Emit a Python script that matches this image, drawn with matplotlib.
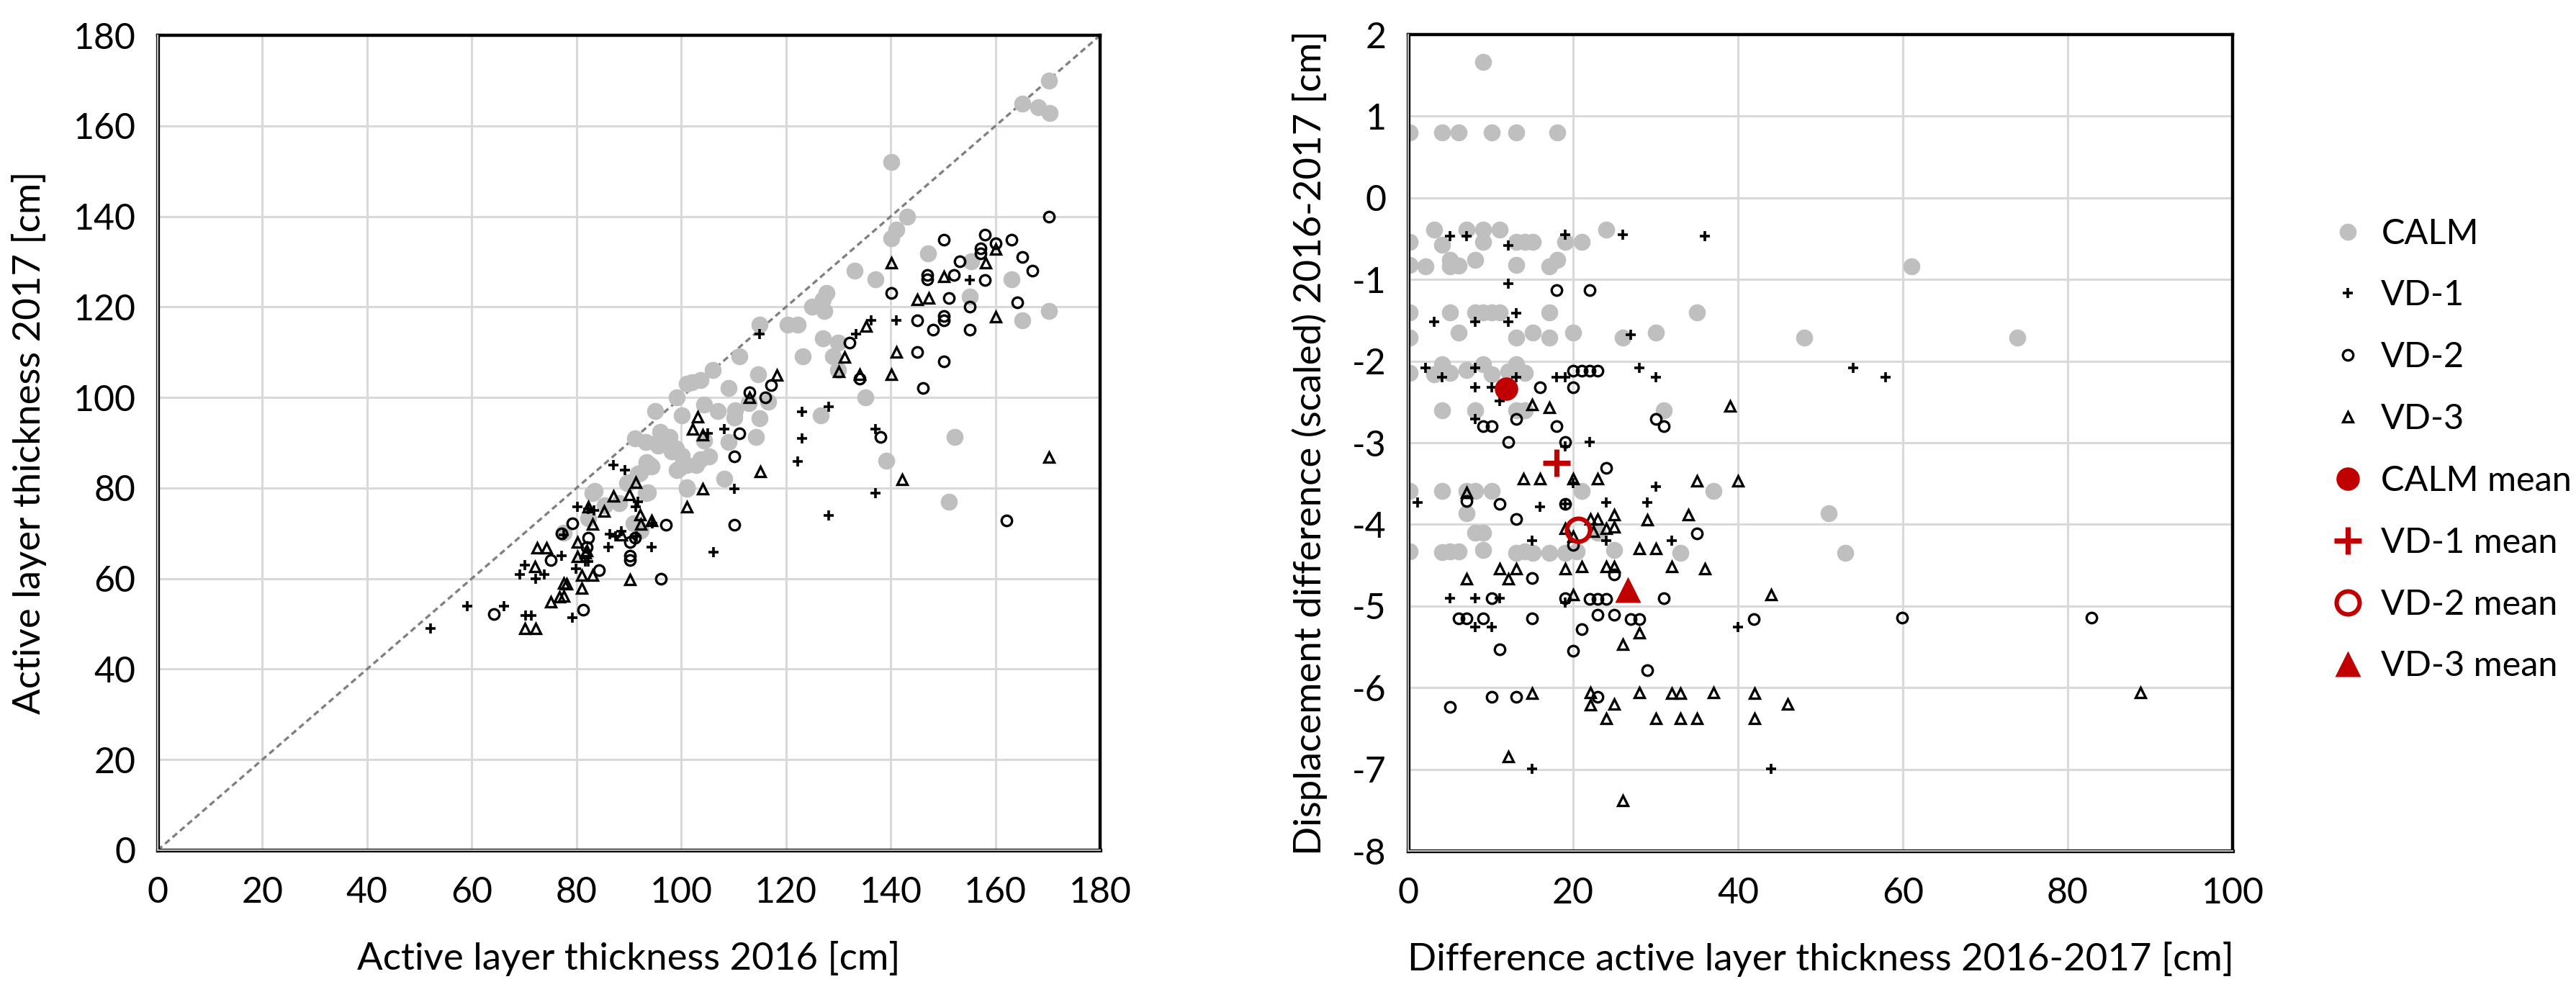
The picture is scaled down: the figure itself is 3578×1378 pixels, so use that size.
import matplotlib
matplotlib.use("Agg")
import matplotlib.pyplot as plt

plt.rcParams['font.family'] = ['Lato', 'DejaVu Sans']
plt.rcParams['axes.unicode_minus'] = False

# ---- left panel: active layer thickness 2016 vs 2017 ----
calm_2016 = [170.2, 165.1, 168.2, 170.3, 140.1, 143.1, 141.1, 140.1, 147.1, 133.1, 137.1, 155.3,
             155.1, 163.1, 170.2, 165.1, 127.8, 127.0, 125.0, 127.3, 115.0, 120.3, 122.2, 127.0,
             130.0, 111.1, 123.2, 129.0, 130.0, 106.0, 102.0, 103.7, 109.1, 114.7, 135.1, 126.6,
             152.2, 99.1, 95.0, 104.3, 107.0, 110.3, 115.0, 114.3, 109.0, 104.3, 139.1, 151.1,
             108.2, 101.1, 94.3, 99.6, 103.7, 105.3, 95.6, 99.0, 93.7, 100.1, 91.1, 93.2,
             95.5, 96.0, 97.8, 98.2, 100.1, 99.2, 101.0, 94.1, 92.1, 90.0, 93.2, 88.2,
             85.4, 83.1, 82.2, 90.9, 92.3, 101.0, 77.6, 112.9, 116.6, 110.1, 102.8, 93.4,
             91.7, 89.7, 83.4, 101.0]
calm_2017 = [170.0, 164.9, 164.1, 162.9, 152.0, 140.0, 137.0, 135.1, 131.9, 128.0, 126.1, 130.0,
             122.3, 126.1, 119.1, 117.0, 123.1, 121.6, 120.0, 119.1, 116.1, 116.1, 116.1, 113.0,
             112.1, 109.1, 109.1, 109.1, 106.1, 106.1, 103.3, 103.9, 102.1, 105.1, 100.0, 96.0,
             91.2, 100.0, 97.0, 98.4, 97.0, 97.2, 95.4, 91.2, 90.2, 90.5, 86.0, 77.0,
             82.0, 79.9, 84.8, 84.2, 86.3, 86.9, 89.3, 88.7, 79.0, 96.1, 91.0, 90.2,
             90.2, 92.4, 91.3, 88.1, 87.1, 83.9, 85.0, 85.0, 83.4, 81.2, 78.9, 76.7,
             76.2, 78.9, 73.3, 72.2, 70.6, 80.2, 70.1, 98.7, 99.0, 95.5, 85.0, 85.7,
             83.2, 81.1, 79.3, 103.0]

vd1_2016 = [115.0, 141.1, 136.3, 133.3, 155.1, 123.0, 128.1, 123.0, 137.1, 108.2, 105.0, 122.3,
            110.1, 137.1, 128.1, 94.3, 106.1, 87.1, 89.2, 80.1, 82.2, 83.3, 91.7, 91.3,
            86.3, 88.6, 86.1, 94.4, 77.6, 79.9, 81.7, 82.2, 77.2, 79.2, 70.1, 69.1,
            72.2, 73.9, 59.1, 66.1, 70.2, 71.4, 52.1, 87.4, 91.4]
vd1_2017 = [114.0, 117.0, 117.0, 114.0, 126.0, 96.9, 98.0, 91.0, 93.1, 93.0, 92.1, 85.8,
            79.8, 78.9, 74.0, 67.0, 65.8, 85.0, 84.0, 75.8, 75.4, 75.1, 77.0, 75.9,
            69.8, 70.4, 67.0, 72.2, 69.6, 62.2, 63.7, 63.7, 65.1, 51.3, 62.9, 60.9,
            60.0, 60.9, 53.9, 53.9, 51.9, 51.9, 48.9, 69.3, 69.3]

vd2_2016 = [170.2, 158.0, 150.1, 163.1, 160.0, 157.1, 157.1, 165.1, 153.1, 167.1, 152.1, 158.0,
            147.0, 147.0, 140.1, 151.1, 155.1, 164.1, 145.1, 150.1, 150.1, 148.1, 155.1, 132.1,
            145.1, 150.1, 134.0, 146.1, 113.0, 117.1, 116.1, 111.1, 138.1, 110.1, 97.1, 110.1,
            96.1, 162.1, 79.2, 82.2, 82.0, 91.1, 90.2, 90.2, 90.2, 84.3, 81.2, 75.1,
            64.2, 77.1]
vd2_2017 = [140.0, 136.0, 134.9, 134.9, 134.0, 133.0, 131.9, 131.0, 130.0, 128.0, 127.0, 125.9,
            127.0, 126.1, 123.1, 122.0, 120.0, 121.0, 117.0, 118.0, 117.0, 115.0, 115.0, 112.1,
            110.0, 107.9, 104.2, 102.1, 101.2, 102.8, 100.0, 92.1, 91.2, 86.9, 71.9, 71.9,
            60.0, 72.9, 72.2, 69.0, 66.9, 69.0, 68.0, 65.1, 64.0, 61.9, 53.1, 64.0,
            52.1, 69.9]

vd3_2016 = [140.1, 158.1, 160.1, 150.1, 145.1, 147.3, 160.1, 135.3, 131.2, 130.1, 134.0, 141.1,
            140.1, 118.2, 113.0, 103.1, 102.1, 104.1, 170.2, 142.1, 115.1, 104.1, 101.1, 94.3,
            91.3, 87.0, 90.0, 82.2, 85.3, 92.1, 92.3, 83.1, 80.1, 82.0, 80.1, 81.0,
            83.1, 90.2, 81.0, 77.6, 77.6, 88.6, 72.4, 74.2, 72.1, 81.7, 78.1, 75.1,
            76.7, 70.1, 72.2]
vd3_2017 = [129.8, 129.8, 132.8, 126.7, 121.6, 121.9, 117.8, 115.8, 108.9, 105.7, 105.1, 110.0,
            105.1, 105.0, 100.0, 95.8, 93.0, 91.8, 86.8, 81.9, 83.7, 79.8, 75.8, 72.9,
            81.2, 78.3, 78.6, 75.9, 74.9, 74.1, 72.0, 72.0, 68.0, 66.1, 64.8, 60.8,
            60.8, 59.8, 57.9, 59.0, 56.1, 69.6, 66.8, 66.8, 62.6, 65.6, 58.9, 54.8,
            55.9, 48.9, 48.9]

# ---- right panel: ALT difference vs displacement difference ----
calm_dalt = [9.1, 0.2, 4.1, 6.1, 10.1, 13.1, 18.1, 3.1, 7.1, 9.1, 11.1, 24.0,
             0.2, 4.1, 9.1, 13.1, 14.1, 15.1, 19.0, 21.0, 0.2, 2.1, 5.1, 5.1,
             6.1, 8.1, 13.1, 17.1, 18.1, 0.2, 5.1, 8.1, 9.1, 10.1, 11.1, 17.1,
             35.0, 0.2, 6.1, 13.1, 15.1, 17.1, 20.0, 26.0, 30.0, 48.0, 0.2, 3.1,
             4.1, 5.1, 7.1, 9.1, 10.1, 12.1, 13.1, 14.1, 4.1, 8.1, 13.1, 14.1,
             31.0, 61.0, 73.9, 0.2, 4.1, 7.1, 8.1, 10.1, 21.0, 37.0, 7.1, 8.1,
             9.1, 0.2, 4.1, 5.1, 6.1, 9.1, 13.1, 14.1, 15.1, 17.1, 19.0, 20.4,
             23.0, 25.0, 33.0, 51.0, 53.0]
calm_ddisp = [1.67, 0.80, 0.80, 0.80, 0.80, 0.80, 0.80, -0.39, -0.39, -0.39, -0.39, -0.39,
              -0.54, -0.57, -0.54, -0.54, -0.54, -0.54, -0.54, -0.54, -0.82, -0.84, -0.76, -0.84,
              -0.83, -0.76, -0.82, -0.84, -0.76, -1.40, -1.40, -1.40, -1.40, -1.40, -1.40, -1.40,
              -1.40, -1.71, -1.65, -1.71, -1.65, -1.71, -1.65, -1.71, -1.65, -1.71, -2.14, -2.16,
              -2.04, -2.14, -2.11, -2.04, -2.16, -2.13, -2.04, -2.14, -2.60, -2.60, -2.60, -2.60,
              -2.60, -0.84, -1.71, -3.59, -3.59, -3.59, -3.59, -3.59, -3.59, -3.59, -3.86, -4.10,
              -4.10, -4.33, -4.34, -4.33, -4.33, -4.31, -4.35, -4.33, -4.35, -4.35, -4.35, -4.33,
              -4.10, -4.31, -4.35, -3.86, -4.35]

vd1_dalt = [5.1, 7.1, 12.1, 19.0, 26.0, 36.0, 12.1, 13.1, 3.1, 8.1, 12.1, 27.0,
            2.1, 8.1, 4.1, 13.1, 8.1, 10.1, 11.1, 18.0, 19.0, 28.0, 30.0, 8.1,
            22.0, 19.0, 54.0, 57.9, 20.0, 1.1, 16.0, 19.0, 24.0, 29.0, 30.0, 15.0,
            24.0, 32.0, 5.1, 8.1, 11.1, 19.0, 8.1, 10.1, 40.0, 15.0, 44.0]
vd1_ddisp = [-0.47, -0.47, -0.58, -0.45, -0.45, -0.47, -1.05, -1.41, -1.52, -1.52, -1.52, -1.68,
             -2.08, -2.08, -2.20, -2.20, -2.32, -2.32, -2.49, -2.20, -2.20, -2.08, -2.20, -2.71,
             -2.99, -3.04, -2.08, -2.20, -3.49, -3.73, -3.78, -3.75, -3.73, -3.73, -3.54, -4.20,
             -4.20, -4.20, -4.90, -4.90, -4.90, -4.96, -5.26, -5.26, -5.26, -6.99, -6.99]

vd2_dalt = [18.0, 22.0, 20.0, 21.0, 22.0, 23.0, 16.0, 20.0, 13.1, 9.1, 10.1, 18.0,
            30.0, 31.0, 12.1, 19.0, 24.0, 7.1, 11.1, 13.1, 19.0, 20.0, 35.0, 15.0,
            25.0, 10.1, 19.0, 22.0, 23.0, 24.0, 31.0, 6.1, 7.1, 9.1, 15.0, 23.0,
            25.0, 27.0, 28.0, 41.9, 21.0, 11.1, 20.0, 29.0, 10.1, 13.1, 23.0, 5.1,
            59.9, 82.9]
vd2_ddisp = [-1.13, -1.13, -2.12, -2.12, -2.12, -2.12, -2.32, -2.32, -2.71, -2.80, -2.80, -2.80,
             -2.71, -2.80, -2.99, -2.99, -3.31, -3.71, -3.75, -3.93, -3.75, -4.25, -4.11, -4.66,
             -4.61, -4.90, -4.90, -4.91, -4.91, -4.91, -4.90, -5.15, -5.15, -5.15, -5.15, -5.11,
             -5.11, -5.16, -5.16, -5.16, -5.28, -5.53, -5.55, -5.79, -6.11, -6.11, -6.11, -6.24,
             -5.14, -5.14]

vd3_dalt = [15.0, 17.1, 39.0, 14.0, 16.0, 20.0, 23.0, 35.0, 40.0, 7.1, 22.1, 23.0,
            25.0, 29.0, 34.0, 19.0, 24.0, 25.0, 20.0, 22.4, 28.0, 30.0, 11.1, 13.1,
            19.0, 21.0, 24.0, 25.0, 32.0, 36.0, 7.1, 12.1, 20.0, 44.0, 28.0, 26.0,
            15.0, 22.1, 22.1, 25.0, 28.0, 32.0, 33.0, 37.0, 42.0, 46.0, 24.0, 30.0,
            33.0, 35.0, 42.0, 12.1, 26.0, 88.8]
vd3_ddisp = [-2.53, -2.57, -2.55, -3.44, -3.44, -3.44, -3.44, -3.47, -3.47, -3.61, -3.93, -3.93,
             -3.88, -3.94, -3.88, -4.05, -4.05, -4.03, -4.15, -4.08, -4.30, -4.30, -4.54, -4.54,
             -4.54, -4.52, -4.52, -4.52, -4.52, -4.54, -4.67, -4.67, -4.86, -4.86, -5.33, -5.47,
             -6.07, -6.06, -6.21, -6.20, -6.06, -6.07, -6.07, -6.06, -6.07, -6.20, -6.38, -6.38,
             -6.38, -6.38, -6.38, -6.84, -7.38, -6.06]

mean_names = ['CALM mean', 'VD-1 mean', 'VD-2 mean', 'VD-3 mean']
mean_dalt = [11.9, 18.0, 20.6, 26.6]
mean_ddisp = [-2.34, -3.25, -4.07, -4.80]

RED = '#c00000'
GRAY = '#bfbfbf'

# marker styles for the four groups (same in both panels)
styles = {
    'CALM': dict(marker='o', ms=8.5, mfc=GRAY, mec='none', color=GRAY),
    'VD-1': dict(marker='+', ms=5.0, mew=1.3, color='black'),
    'VD-2': dict(marker='o', ms=5.2, mew=1.2, mfc='none', mec='black', color='black'),
    'VD-3': dict(marker='^', ms=5.2, mew=1.2, mfc='none', mec='black', color='black'),
}
mean_styles = [
    dict(marker='o', ms=11.7, mfc=RED, mec='none', color=RED),
    dict(marker='+', ms=13.5, mew=2.6, color=RED),
    dict(marker='o', ms=11.5, mew=2.2, mfc='none', mec=RED, color=RED),
    dict(marker='^', ms=13.0, mfc=RED, mec='none', color=RED),
]

fig = plt.figure(figsize=(17.89, 6.89), dpi=200)
ax1 = fig.add_axes([0.0612, 0.1430, 0.3659, 0.8214])
ax2 = fig.add_axes([0.5467, 0.1422, 0.3200, 0.8229])


def style_axes(ax):
    ax.grid(True, color='#d9d9d9', lw=1.1, zorder=0)
    ax.set_axisbelow(True)
    ax.tick_params(length=0, labelsize=18)
    ax.tick_params(axis='x', pad=13)
    ax.tick_params(axis='y', pad=11)
    for s in ['top', 'right']:
        ax.spines[s].set_linewidth(1.6)
        ax.spines[s].set_color('black')
    for s in ['left', 'bottom']:
        ax.spines[s].set_linewidth(1.9)
        ax.spines[s].set_color('black')
    # grey inner stroke on the axis lines
    ax.plot([0, 0], [0, 1], transform=ax.transAxes, color=GRAY, lw=0.8,
            clip_on=False, zorder=5)
    ax.plot([0, 1], [0, 0], transform=ax.transAxes, color=GRAY, lw=0.8,
            clip_on=False, zorder=5)


# left panel
style_axes(ax1)
ax1.axline((0, 0), slope=1, color='#808080', lw=1.2, dashes=(2.5, 1.6), zorder=1)
ax1.plot(calm_2016, calm_2017, ls='none', zorder=2, **styles['CALM'])
ax1.plot(vd1_2016, vd1_2017, ls='none', zorder=3, **styles['VD-1'])
ax1.plot(vd2_2016, vd2_2017, ls='none', zorder=3, **styles['VD-2'])
ax1.plot(vd3_2016, vd3_2017, ls='none', zorder=3, **styles['VD-3'])
ax1.set_xlim(0, 180)
ax1.set_ylim(0, 180)
ax1.set_xticks(range(0, 181, 20))
ax1.set_yticks(range(0, 181, 20))
ax1.set_xlabel('Active layer thickness 2016 [cm]', fontsize=19, va='center')
ax1.set_ylabel('Active layer thickness 2017 [cm]', fontsize=19, va='center')
ax1.xaxis.set_label_coords(0.5, -0.133)
ax1.yaxis.set_label_coords(-0.136, 0.5)

# right panel
style_axes(ax2)
ax2.plot(calm_dalt, calm_ddisp, ls='none', zorder=2, label='CALM', **styles['CALM'])
ax2.plot(vd1_dalt, vd1_ddisp, ls='none', zorder=3, label='VD-1', **styles['VD-1'])
ax2.plot(vd2_dalt, vd2_ddisp, ls='none', zorder=3, label='VD-2', **styles['VD-2'])
ax2.plot(vd3_dalt, vd3_ddisp, ls='none', zorder=3, label='VD-3', **styles['VD-3'])
for name, mx, my, st in zip(mean_names, mean_dalt, mean_ddisp, mean_styles):
    ax2.plot([mx], [my], ls='none', zorder=6, label=name, **st)
ax2.set_xlim(0, 100)
ax2.set_ylim(-8, 2)
ax2.set_xticks(range(0, 101, 20))
ax2.set_yticks(range(-8, 3, 1))
ax2.set_xlabel('Difference active layer thickness 2016-2017 [cm]', fontsize=19, va='center')
ax2.set_ylabel('Displacement difference (scaled) 2016-2017 [cm]', fontsize=19, va='center')
ax2.xaxis.set_label_coords(0.5, -0.133)
ax2.yaxis.set_label_coords(-0.12, 0.5)

fig.legend(loc='center left', bbox_to_anchor=(3232 / 3578, 1 - 625 / 1378),
           frameon=False, fontsize=17.5, handlelength=1.2, handletextpad=0.35,
           labelspacing=0.86, borderpad=0, borderaxespad=0)

fig.savefig('out.png', dpi=200)
